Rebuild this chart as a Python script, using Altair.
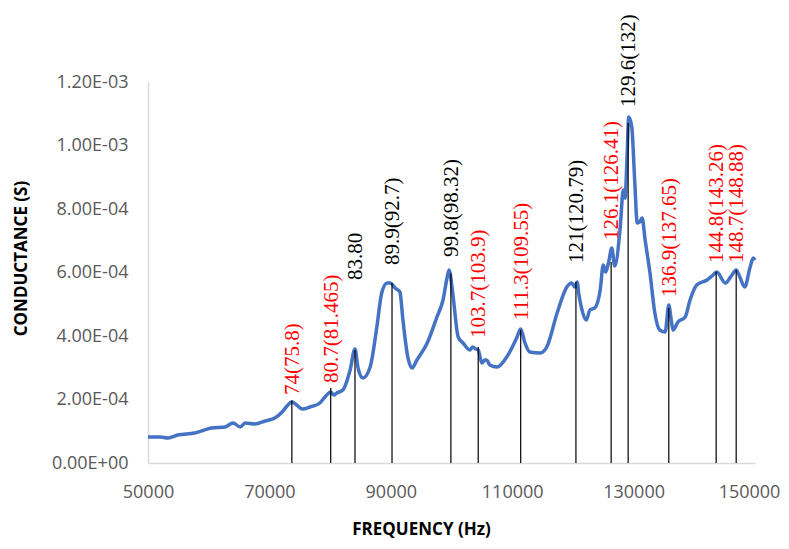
import altair as alt
import pandas as pd

# Conductance spectrum
freq = [50000, 52000, 53300, 54900, 57700, 60500, 62700, 64000, 65200, 66000,
        67600, 69300, 70900, 72100, 72900, 73700, 74500, 75400, 76700, 78300,
        79300, 80100, 80600, 81100, 82100, 83300, 84100, 84600, 85400, 86600,
        87700, 88500, 89400, 89900, 90700, 91500, 92000, 92800, 93500, 94300,
        96000, 97600, 98600, 99300, 99600, 100200, 101100, 101900, 103000, 103500,
        104000, 104400, 105000, 105500, 105800, 106300, 107500, 109100, 110800, 111400,
        112100, 112900, 114600, 115700, 117400, 119000, 119800, 120300, 120700, 121000,
        121500, 122200, 122800, 123600, 124500, 125000, 125400, 125900, 126400, 126900,
        127800, 128300, 128600, 128900, 129200, 129700, 130200, 130600, 131000, 131400,
        131900, 132700, 133500, 134300, 135200, 135800, 136200, 136500, 137300, 138500,
        139300, 140400, 142100, 143100, 143700, 145100, 146200, 146900, 147500, 148300,
        149200, 149700, 150000]
cond = [0.819e-4, 0.819e-4, 0.787e-4, 0.882e-4, 0.945e-4, 1.102e-4, 1.134e-4, 1.260e-4, 1.134e-4, 1.260e-4,
        1.228e-4, 1.323e-4, 1.417e-4, 1.606e-4, 1.795e-4, 1.921e-4, 1.827e-4, 1.701e-4, 1.764e-4, 1.890e-4,
        2.110e-4, 2.236e-4, 2.142e-4, 2.205e-4, 2.299e-4, 2.929e-4, 3.591e-4, 2.992e-4, 2.677e-4, 3.024e-4,
        4.283e-4, 5.354e-4, 5.669e-4, 5.669e-4, 5.512e-4, 5.386e-4, 4.504e-4, 3.339e-4, 2.992e-4, 3.244e-4,
        3.780e-4, 4.598e-4, 5.134e-4, 5.858e-4, 6.079e-4, 5.354e-4, 3.968e-4, 3.780e-4, 3.559e-4, 3.654e-4,
        3.591e-4, 3.559e-4, 3.150e-4, 3.244e-4, 3.244e-4, 3.087e-4, 3.024e-4, 3.339e-4, 3.968e-4, 4.220e-4,
        3.780e-4, 3.496e-4, 3.465e-4, 3.654e-4, 4.724e-4, 5.543e-4, 5.669e-4, 5.543e-4, 5.701e-4, 5.291e-4,
        4.819e-4, 4.504e-4, 4.819e-4, 4.882e-4, 5.449e-4, 6.236e-4, 6.016e-4, 6.331e-4, 6.772e-4, 6.205e-4,
        7.433e-4, 8.598e-4, 8.346e-4, 9.543e-4, 10.898e-4, 10.583e-4, 8.819e-4, 7.559e-4, 7.591e-4, 7.717e-4,
        7.024e-4, 5.984e-4, 4.724e-4, 4.189e-4, 4.126e-4, 4.976e-4, 4.504e-4, 4.189e-4, 4.441e-4, 4.598e-4,
        5.134e-4, 5.606e-4, 5.764e-4, 5.921e-4, 6.016e-4, 5.669e-4, 5.921e-4, 6.079e-4, 5.858e-4, 5.543e-4,
        6.173e-4, 6.457e-4, 6.394e-4]

# Annotated resonance peaks
peak_freq = [73700, 80100, 84100, 90200, 99900, 104400, 111400, 120500, 126300, 129100, 135800, 143600, 146900]
peak_top = [1.98e-4, 2.36e-4, 3.56e-4, 5.67e-4, 5.98e-4, 3.65e-4, 4.19e-4, 5.70e-4, 6.33e-4, 1.071e-3, 4.88e-4, 6.02e-4, 6.08e-4]
label_at = [2.14e-4, 2.52e-4, 5.76e-4, 6.24e-4, 6.49e-4, 3.94e-4, 4.50e-4, 6.30e-4, 7.02e-4, 1.121e-3, 5.23e-4, 6.30e-4, 6.30e-4]
labels = ["74(75.8)", "80.7(81.465)", "83.80", "89.9(92.7)", "99.8(98.32)", "103.7(103.9)",
          "111.3(109.55)", "121(120.79)", "126.1(126.41)", "129.6(132)", "136.9(137.65)",
          "144.8(143.26)", "148.7(148.88)"]
label_kind = ["red", "red", "black", "black", "black", "red", "red", "black", "red", "black", "red", "red", "red"]

y_ticks = [0, 0.0002, 0.0004, 0.0006, 0.0008, 0.0010, 0.0012]
x_ticks = [50000, 70000, 90000, 110000, 130000, 150000]

curve = pd.DataFrame({"freq": freq, "cond": cond})
peaks = pd.DataFrame({"freq": peak_freq, "cond": [0.0] * len(peak_freq), "top": peak_top,
                      "lab_y": label_at, "label": labels, "kind": label_kind})

xscale = alt.Scale(domain=[50000, 150000], nice=False, zero=False)
yscale = alt.Scale(domain=[0, 0.0012], nice=False)

y_label_expr = ("datum.value == 0 ? '0.00E+00' : "
                "format(datum.value / pow(10, floor(log(datum.value)/LN10 + 1e-9)), '.2f') + "
                "'E-0' + (-floor(log(datum.value)/LN10 + 1e-9))")

xaxis = alt.Axis(values=x_ticks, format="d", title="FREQUENCY (Hz)", grid=False, ticks=False,
                 labelFlush=False, labelOverlap=False,
                 labelOffset={"condition": {"test": "datum.value >= 150000", "value": -6}, "value": 0},
                 labelPadding=20, labelFont="Open Sans", labelFontSize=18, labelColor="#595959",
                 domainColor="#D9D9D9", domainWidth=1.5,
                 titleFont="Open Sans", titleFontSize=17, titleFontWeight="bold", titleColor="#000000",
                 titleX=273, titleY=66, titleAnchor="middle", titleBaseline="middle")
yaxis = alt.Axis(values=y_ticks, labelExpr=y_label_expr, title="CONDUCTANCE (S)", grid=False,
                 ticks=False, labelFlush=False, labelOverlap=False,
                 labelPadding=20, labelFont="Open Sans", labelFontSize=18,
                 labelColor="#595959", domainColor="#D9D9D9", domainWidth=1.5,
                 titleFont="Open Sans", titleFontSize=17, titleFontWeight="bold", titleColor="#000000",
                 titleX=-127, titleY=176, titleAngle=270, titleAlign="center",
                 titleBaseline="middle")

line = alt.Chart(curve).mark_line(color="#4472C4", strokeWidth=3.5, interpolate="monotone").encode(
    x=alt.X("freq:Q", scale=xscale, axis=xaxis),
    y=alt.Y("cond:Q", scale=yscale, axis=yaxis),
)

rules = alt.Chart(peaks).mark_rule(color="#000000", strokeWidth=1.2).encode(
    x=alt.X("freq:Q", scale=xscale, axis=xaxis),
    y=alt.Y("cond:Q", scale=yscale, axis=yaxis),
    y2="top:Q",
)

texts = alt.Chart(peaks).mark_text(angle=270, align="left", baseline="middle", font="Liberation Serif",
                                   fontSize=21, dy=1).encode(
    x=alt.X("freq:Q", scale=xscale, axis=xaxis),
    y=alt.Y("lab_y:Q", scale=yscale, axis=yaxis),
    text="label:N",
    color=alt.Color("kind:N", scale=alt.Scale(domain=["red", "black"], range=["#FF0000", "#000000"]),
                    legend=None),
)

chart = alt.layer(line, rules, texts).properties(
    width=607, height=381,
    autosize=alt.AutoSizeParams(type="none"),
    padding={"left": 140, "top": 74, "right": 26, "bottom": 78},
).configure_view(stroke=None)

chart.save("out.html", embed_options={"renderer": "svg", "actions": False})
